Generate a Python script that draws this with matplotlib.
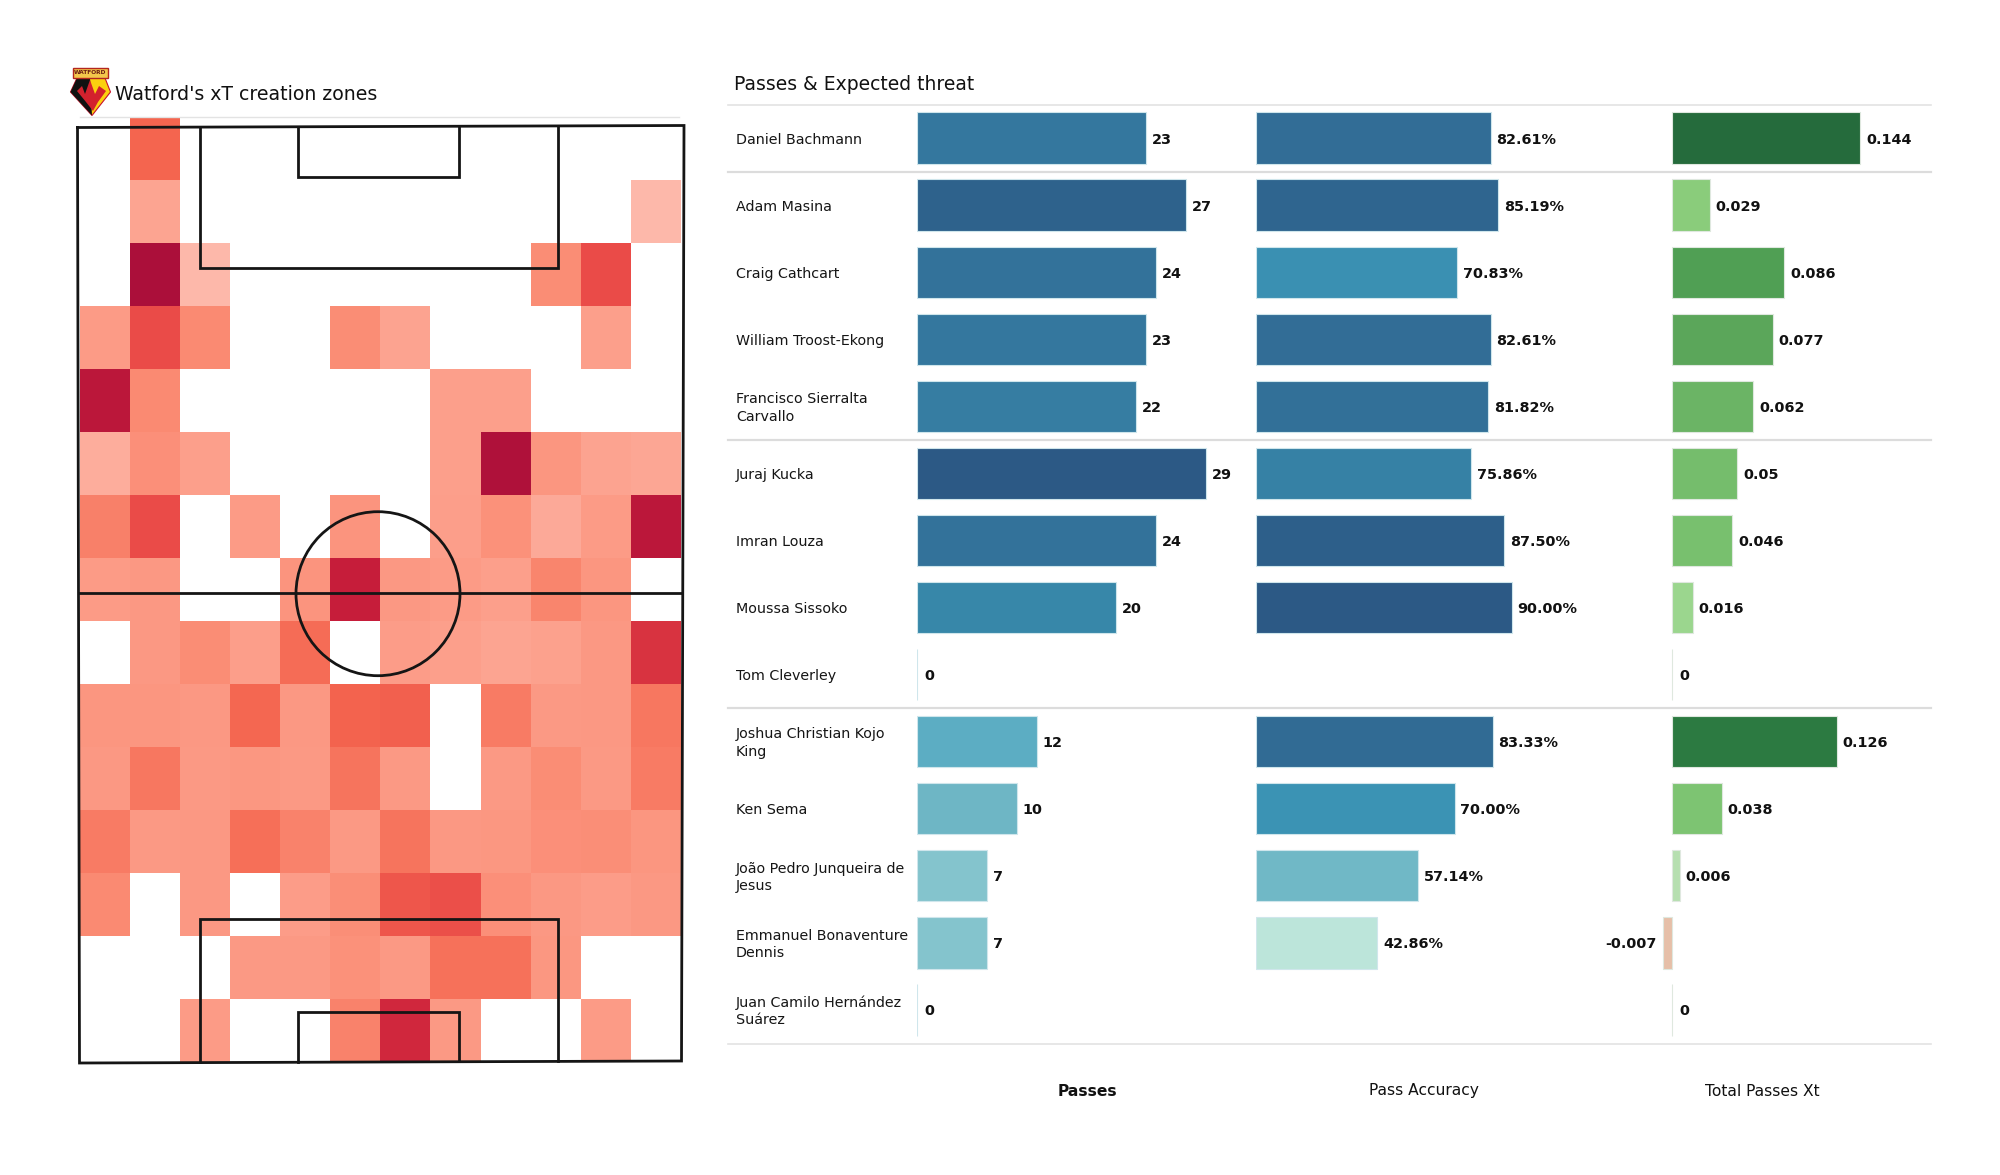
import matplotlib
matplotlib.use('Agg')
import matplotlib.pyplot as plt
import numpy as np
from matplotlib.colors import LinearSegmentedColormap
from matplotlib.patches import Circle, Polygon, Rectangle

# heat levels of the xT zones, 0 is an empty zone (12 columns, 15 rows)
zone_levels = [
    [0, 55, 0, 0, 0, 0, 0, 0, 0, 0, 0, 0],
    [0, 22, 0, 0, 0, 0, 0, 0, 0, 0, 0, 10],
    [0, 100, 10, 0, 0, 0, 0, 0, 0, 38, 70, 0],
    [28, 70, 40, 0, 0, 38, 23, 0, 0, 0, 25, 0],
    [92, 40, 0, 0, 0, 0, 0, 25, 25, 0, 0, 0],
    [17, 36, 25, 0, 0, 0, 0, 25, 98, 32, 23, 21],
    [44, 70, 0, 28, 0, 33, 0, 26, 35, 19, 28, 92],
    [28, 30, 0, 0, 33, 86, 30, 28, 25, 42, 32, 0],
    [0, 30, 38, 26, 52, 0, 27, 25, 22, 24, 30, 78],
    [32, 32, 30, 54, 30, 56, 58, 0, 46, 29, 30, 48],
    [30, 48, 29, 31, 29, 49, 29, 0, 29, 38, 29, 46],
    [46, 29, 30, 51, 43, 29, 49, 30, 31, 36, 37, 32],
    [40, 0, 30, 0, 27, 37, 64, 68, 36, 30, 27, 30],
    [0, 0, 0, 29, 29, 35, 29, 50, 50, 31, 0, 0],
    [0, 0, 28, 0, 0, 43, 82, 29, 0, 0, 28, 0],
]

players = [
    'Daniel Bachmann', 'Adam Masina', 'Craig Cathcart', 'William Troost-Ekong',
    'Francisco Sierralta\nCarvallo', 'Juraj Kucka', 'Imran Louza', 'Moussa Sissoko',
    'Tom Cleverley', 'Joshua Christian Kojo\nKing', 'Ken Sema',
    'João Pedro Junqueira de\nJesus', 'Emmanuel Bonaventure\nDennis',
    'Juan Camilo Hernández\nSuárez',
]
passes = [23, 27, 24, 23, 22, 29, 24, 20, 0, 12, 10, 7, 7, 0]
pass_accuracy = [82.61, 85.19, 70.83, 82.61, 81.82, 75.86, 87.50, 90.00, None,
                 83.33, 70.00, 57.14, 42.86, None]
passes_xt = [0.144, 0.029, 0.086, 0.077, 0.062, 0.05, 0.046, 0.016, 0,
             0.126, 0.038, 0.006, -0.007, 0]
group_ends = [0, 4, 8]

FIG_W, FIG_H = 2000, 1175
TOP, BOTTOM = 104.5, 1043.5

zone_cmap = LinearSegmentedColormap.from_list('zones', [
    (0.00, '#fdc0b2'), (0.10, '#fdb8aa'), (0.25, '#fc9f8b'), (0.40, '#fa8a72'),
    (0.55, '#f4654f'), (0.70, '#ea4c48'), (0.85, '#c91e3a'), (1.00, '#ab0f3a'),
])
blue_cmap = LinearSegmentedColormap.from_list('blues', [
    (0.00, '#d0eee4'), (0.09, '#bce5da'), (0.24, '#84c4cd'), (0.345, '#6eb6c5'),
    (0.368, '#70b8c6'), (0.41, '#5cadc3'), (0.615, '#3b93b4'), (0.69, '#3787a9'),
    (0.76, '#367da2'), (0.83, '#33729a'), (0.93, '#2e628c'), (1.00, '#2c5985'),
])
green_cmap = LinearSegmentedColormap.from_list('greens', [
    (0.00, '#e6bfa8'), (0.046, '#d4d4b8'), (0.086, '#b6dfb0'), (0.152, '#9ad68c'),
    (0.24, '#8acc7b'), (0.30, '#7dc472'), (0.40, '#72bb6a'), (0.50, '#66ae60'),
    (0.62, '#4f9e54'), (0.88, '#2c7a41'), (1.00, '#256b3c'),
])


def px_axes(fig, left, top, right, bottom):
    return fig.add_axes([left / FIG_W, 1 - bottom / FIG_H,
                         (right - left) / FIG_W, (bottom - top) / FIG_H])


def plot_zones(ax):
    levels = np.ma.masked_equal(np.array(zone_levels, dtype=float), 0)
    ax.pcolormesh(np.arange(13), np.arange(16), levels, cmap=zone_cmap, vmin=0, vmax=100)
    ax.set_xlim(0, 12)
    ax.set_ylim(15, 0)
    ax.axis('off')


def plot_pitch(ax):
    line = dict(color='#151515', lw=2.0, solid_joinstyle='miter', zorder=5)
    ax.plot([77.5, 684, 681.5, 79.5, 77.5], [127.5, 125.5, 1061, 1063, 127.5], **line)
    ax.plot([79, 682], [593, 593], **line)
    ax.plot([199.5, 199.5, 558, 558], [127, 268, 268, 126], **line)
    ax.plot([297.5, 297.5, 459, 459], [126.5, 177, 177, 126], **line)
    ax.plot([199.5, 199.5, 558, 558], [1062, 919, 919, 1061], **line)
    ax.plot([297.5, 297.5, 459, 459], [1062, 1012, 1012, 1061], **line)
    ax.add_patch(Circle((378, 593.7), 82, fill=False, ec='#151515', lw=2.0, zorder=5))


def plot_logo(ax):
    shield = [(77, 78), (105, 78), (110.5, 92), (92, 115.5), (70.5, 92)]
    ax.add_patch(Polygon(shield, fc='#fbd00f', ec='#c8102e', lw=0.8, zorder=6))
    ax.add_patch(Polygon([(77, 78), (90, 78), (92, 115.5), (70.5, 92)], fc='#111111', ec='none', zorder=6))
    ax.add_patch(Polygon([(77, 91), (82, 86), (85, 94), (90, 80), (95, 94), (99, 86), (106, 91),
                          (98, 102), (93, 111), (86, 102)], fc='#d3212d', ec='none', zorder=7))
    ax.add_patch(Rectangle((73, 68), 35, 9.5, fc='#f3c74b', ec='#b3261e', lw=1, zorder=6))
    ax.text(90.5, 72.8, 'WATFORD', fontsize=4.2, fontweight='bold', color='#6b1d12',
            ha='center', va='center', zorder=8)


def plot_bars(ax, values, colors, labels, edge):
    rows = [i for i, v in enumerate(values) if v is not None]
    shown = [values[i] for i in rows]
    ax.barh(rows, shown, height=0.765, color=[colors[i] for i in rows], edgecolor=edge, linewidth=0.8)
    for row, value in zip(rows, shown):
        sign = -1 if value < 0 else 1
        shift = 4.2 if value else 5.2
        ax.annotate(labels[row], (value, row), xytext=(sign * shift, 0), textcoords='offset points',
                    ha='right' if value < 0 else 'left', va='center_baseline',
                    fontsize=10.4, fontweight='bold', color='#111111')
    ax.set_ylim(13.5, -0.5)
    ax.axis('off')


def main():
    plt.rcParams['font.family'] = 'DejaVu Sans'
    fig = plt.figure(figsize=(FIG_W / 100, FIG_H / 100), dpi=100)

    plot_zones(px_axes(fig, 79.5, 117, 681, 1062))

    canvas = fig.add_axes([0, 0, 1, 1], zorder=3)
    canvas.set_xlim(0, FIG_W)
    canvas.set_ylim(FIG_H, 0)
    canvas.axis('off')
    canvas.patch.set_alpha(0)
    plot_pitch(canvas)
    plot_logo(canvas)
    canvas.plot([80, 679], [117, 117], color='#e3e3e3', lw=1, zorder=1)
    canvas.text(115, 94, "Watford's xT creation zones", fontsize=13.6, color='#111111', va='center')
    canvas.text(733.5, 84, 'Passes & Expected threat', fontsize=13.5, color='#111111', va='center')

    row_h = (BOTTOM - TOP) / 14
    canvas.plot([728, 1931], [TOP, TOP], color='#e3e3e3', lw=1.2)
    canvas.plot([728, 1931], [BOTTOM, BOTTOM], color='#e3e3e3', lw=1.2)
    for end in group_ends:
        y = TOP + row_h * (end + 1)
        canvas.plot([728, 1931], [y, y], color='#dcdcdc', lw=1.6)
    for i, name in enumerate(players):
        canvas.text(736, TOP + 1.5 + row_h * (i + 0.5), name, fontsize=10.3, color='#151515',
                    va='center', linespacing=1.32)

    # each column gets its own axes, zero lines and scales
    acc_shown = [0 if v is None else v for v in pass_accuracy]
    xt_min, xt_max = min(passes_xt), max(passes_xt)

    ax_passes = px_axes(fig, 917, TOP, 1230, BOTTOM)
    plot_bars(ax_passes, passes, [blue_cmap(v / max(passes)) for v in passes],
              [str(v) for v in passes], '#cfe6ec')
    ax_passes.set_xlim(0, 313 / 9.97)

    ax_acc = px_axes(fig, 1255.5, TOP, 1640, BOTTOM)
    plot_bars(ax_acc, pass_accuracy, [blue_cmap(max(v - 38, 0) / 52) for v in acc_shown],
              [None if v is None else f'{v:.2f}%' for v in pass_accuracy], '#cfe6ec')
    ax_acc.set_xlim(0, 384.5 / 2.845)

    ax_xt = px_axes(fig, 1600, TOP, 1931, BOTTOM)
    plot_bars(ax_xt, passes_xt, [green_cmap((v - xt_min) / (xt_max - xt_min)) for v in passes_xt],
              [str(v) for v in passes_xt], '#dfe8df')
    ax_xt.set_xlim(-72 / 1308, 259 / 1308)

    canvas.text(1087, 1091, 'Passes', fontsize=11.2, fontweight='bold', color='#111111', ha='center', va='center')
    canvas.text(1424, 1091, 'Pass Accuracy', fontsize=11.2, color='#111111', ha='center', va='center')
    canvas.text(1762, 1091, 'Total Passes Xt', fontsize=11.2, color='#111111', ha='center', va='center')

    fig.savefig('out.png', dpi=100)


if __name__ == '__main__':
    main()
